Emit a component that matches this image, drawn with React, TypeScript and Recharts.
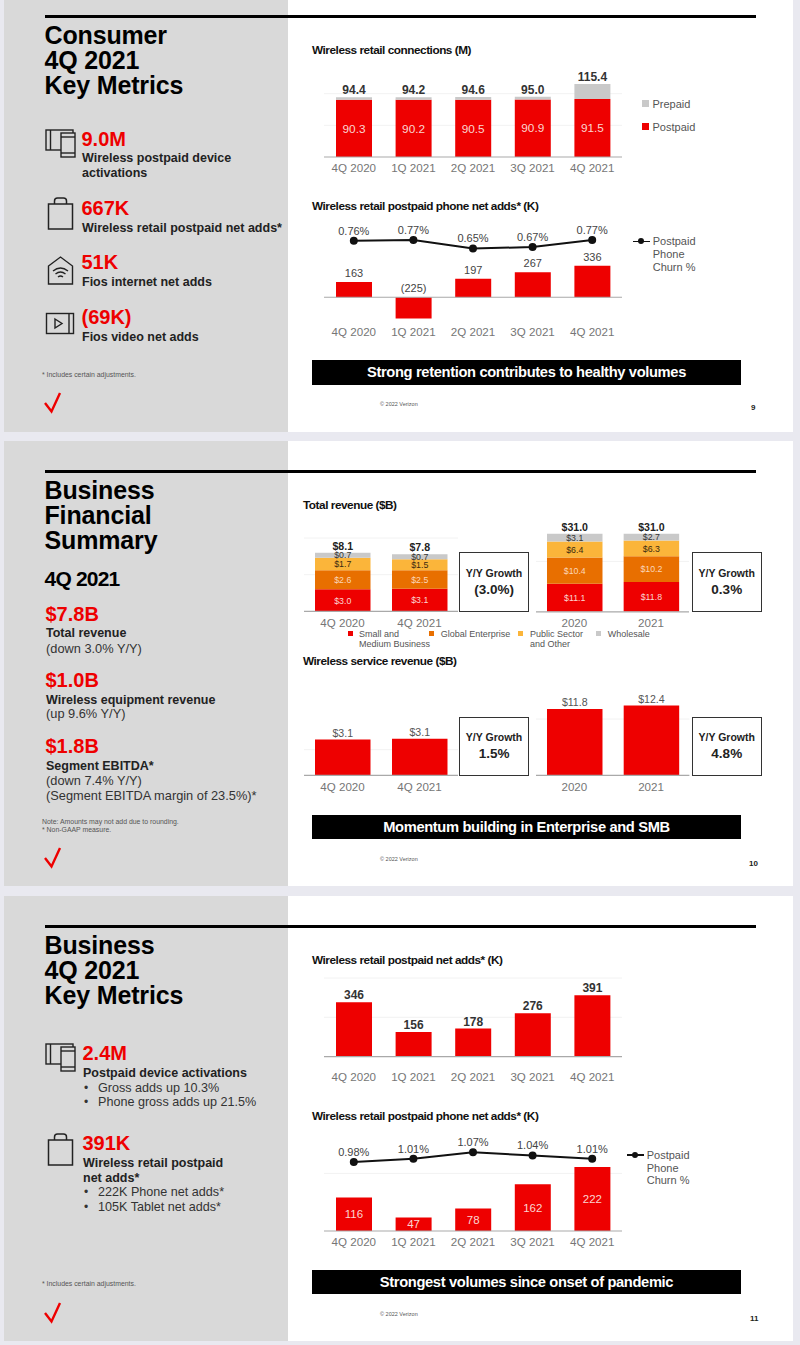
import {
  BarChart,
  Bar,
  ComposedChart,
  Line,
  XAxis,
  YAxis,
  CartesianGrid,
  LabelList,
  ReferenceLine,
} from "recharts";

const RED = "#ee0000";
const ORANGE = "#e86f00";
const YELLOW = "#fbb53a";
const GREY = "#c9c9c9";
const FONT = '"Liberation Sans", Arial, sans-serif';

const quarters = ["4Q 2020", "1Q 2021", "2Q 2021", "3Q 2021", "4Q 2021"];

const postpaidM = [90.3, 90.2, 90.5, 90.9, 91.5];
const prepaidM = [4.1, 4.0, 4.1, 4.1, 23.9];
const totalM = [94.4, 94.2, 94.6, 95.0, 115.4];

const consumerNetAdds = [163, -225, 197, 267, 336];
const consumerChurn = [0.76, 0.77, 0.65, 0.67, 0.77];

const quarterPair = ["4Q 2020", "4Q 2021"];
const yearPair = ["2020", "2021"];

const smbQ = [3.0, 3.1];
const globalQ = [2.6, 2.5];
const publicQ = [1.7, 1.5];
const wholesaleQ = [0.7, 0.7];
const totalQ = [8.1, 7.8];

const smbY = [11.1, 11.8];
const globalY = [10.4, 10.2];
const publicY = [6.4, 6.3];
const wholesaleY = [3.1, 2.7];
const totalY = [31.0, 31.0];

const serviceQ = [3.07, 3.14];
const serviceY = [11.8, 12.4];

const businessNetAdds = [346, 156, 178, 276, 391];
const businessPhoneAdds = [116, 47, 78, 162, 222];
const businessChurn = [0.98, 1.01, 1.07, 1.04, 1.01];

const connections = quarters.map((q, i) => ({
  q,
  postpaid: postpaidM[i],
  prepaid: prepaidM[i],
  total: totalM[i],
}));
const consumerPhones = quarters.map((q, i) => ({
  q,
  adds: consumerNetAdds[i],
  churn: consumerChurn[i],
}));
const revenueQ = quarterPair.map((q, i) => ({
  q,
  smb: smbQ[i],
  global: globalQ[i],
  public: publicQ[i],
  wholesale: wholesaleQ[i],
  total: totalQ[i],
}));
const revenueY = yearPair.map((q, i) => ({
  q,
  smb: smbY[i],
  global: globalY[i],
  public: publicY[i],
  wholesale: wholesaleY[i],
  total: totalY[i],
}));
const wirelessQ = quarterPair.map((q, i) => ({ q, value: serviceQ[i] }));
const wirelessY = yearPair.map((q, i) => ({ q, value: serviceY[i] }));
const businessAdds = quarters.map((q, i) => ({ q, adds: businessNetAdds[i] }));
const businessPhones = quarters.map((q, i) => ({
  q,
  adds: businessPhoneAdds[i],
  churn: businessChurn[i],
}));

const dollars = (v: any) => `$${Number(v).toFixed(1)}`;
const oneDecimal = (v: any) => Number(v).toFixed(1);
const percent = (v: any) => `${Number(v).toFixed(2)}%`;

// text placed by the vertical centre of its line
const T = ({ x, y, size = 12, bold = false, color = "#111", ls = 0, children }: any) => (
  <div
    style={{
      position: "absolute",
      left: x,
      top: y,
      transform: "translateY(-50%)",
      fontSize: size,
      fontWeight: bold ? 700 : 400,
      color,
      letterSpacing: ls,
      whiteSpace: "nowrap",
      lineHeight: 1,
    }}
  >
    {children}
  </div>
);

const Box = ({ x, y, w, h, color, border }: any) => (
  <div
    style={{
      position: "absolute",
      left: x,
      top: y,
      width: w,
      height: h,
      background: color,
      border,
      boxSizing: "border-box",
    }}
  />
);

const Heading = ({ x, y, children }: any) => (
  <T x={x} y={y} size={11.8} bold ls={-0.47}>
    {children}
  </T>
);

const BigTitle = ({ y, children }: any) => (
  <T x={44.5} y={y} size={25} bold color="#000" ls={-0.15}>
    {children}
  </T>
);

const Bold = ({ x, y, children }: any) => (
  <T x={x} y={y} size={12.5} bold color="#222">
    {children}
  </T>
);

const Figure = ({ x, y, children }: any) => (
  <T x={x} y={y} size={20} bold color={RED}>
    {children}
  </T>
);

const Plain = ({ x, y, children }: any) => (
  <T x={x} y={y} size={12.8} color="#333">
    {children}
  </T>
);

const Note = ({ y, children }: any) => (
  <T x={42} y={y} size={6.9} color="#555">
    {children}
  </T>
);

const Key = ({ x, y, children }: any) => (
  <T x={x} y={y} size={11} color="#555">
    {children}
  </T>
);

const Growth = ({ x, y, h, labelY, valueY, value }: any) => (
  <>
    <Box x={x} y={y} w={69.5} h={h} color="#fff" border="1.3px solid #333" />
    <div
      style={{
        position: "absolute",
        left: x,
        width: 69.5,
        top: labelY,
        transform: "translateY(-50%)",
        textAlign: "center",
        fontSize: 10.5,
        fontWeight: 700,
        color: "#222",
        lineHeight: 1,
      }}
    >
      Y/Y Growth
    </div>
    <div
      style={{
        position: "absolute",
        left: x,
        width: 69.5,
        top: valueY,
        transform: "translateY(-50%)",
        textAlign: "center",
        fontSize: 13.5,
        fontWeight: 700,
        color: "#222",
        lineHeight: 1,
      }}
    >
      {value}
    </div>
  </>
);

const Banner = ({ y, h, children }: any) => (
  <div
    style={{
      position: "absolute",
      left: 312,
      top: y,
      width: 429,
      height: h,
      lineHeight: `${h}px`,
      background: "#000",
      color: "#fff",
      textAlign: "center",
      fontSize: 14.7,
      fontWeight: 700,
      letterSpacing: -0.35,
    }}
  >
    {children}
  </div>
);

const Check = ({ y }: any) => (
  <svg style={{ position: "absolute", left: 42, top: y, overflow: "visible" }} width={22} height={24}>
    <polyline points="3,11 9.5,19.5 18,1" fill="none" stroke={RED} strokeWidth={2.4} />
  </svg>
);

const DevicesIcon = ({ y }: any) => (
  <svg style={{ position: "absolute", left: 45, top: y }} width={32} height={30} fill="none" stroke="#222" strokeWidth={1.4}>
    <rect x={1} y={1} width={27} height={20} />
    <line x1={5.5} y1={1} x2={5.5} y2={21} />
    <rect x={16} y={4} width={14} height={24} fill="#d9d9d9" />
    <line x1={16} y1={8} x2={30} y2={8} />
    <line x1={16} y1={24} x2={30} y2={24} />
  </svg>
);

const BagIcon = ({ y }: any) => (
  <svg style={{ position: "absolute", left: 47, top: y }} width={27} height={34} fill="none" stroke="#222" strokeWidth={1.5}>
    <rect x={1.5} y={7} width={24} height={25} />
    <path d="M7.5 7 V4 Q7.5 1 10.5 1 H16.5 Q19.5 1 19.5 4 V7" />
  </svg>
);

const HouseIcon = ({ y }: any) => (
  <svg style={{ position: "absolute", left: 47, top: y }} width={27} height={30} fill="none" stroke="#222" strokeWidth={1.4}>
    <path d="M1.5 10 L13.5 1 L25.5 10 V28 H1.5 Z" />
    <path d="M6 15 Q13.5 9 21 15 M8.5 18 Q13.5 14 18.5 18 M11 21 Q13.5 19 16 21" />
  </svg>
);

const VideoIcon = ({ y }: any) => (
  <svg style={{ position: "absolute", left: 45, top: y }} width={31} height={24} fill="none" stroke="#222" strokeWidth={1.4}>
    <rect x={1.5} y={1.5} width={27} height={20} />
    <line x1={24} y1={1.5} x2={24} y2={21.5} />
    <path d="M10 7 L17 11.5 L10 16 Z" />
  </svg>
);

// frame a chart so its plot rectangle lands on the given page coordinates
const HEAD = 26;
const FOOT = 30;
const margin = { top: HEAD, bottom: 0, left: 0, right: 0 };

const Chart = ({ x0, x1, top, bottom, composed = false, data, children }: any) => {
  const Wrap: any = composed ? ComposedChart : BarChart;
  return (
    <div style={{ position: "absolute", left: x0, top: top - HEAD }}>
      <Wrap
        width={x1 - x0}
        height={bottom - top + HEAD + FOOT}
        data={data}
        margin={margin}
        style={{ overflow: "visible" }}
      >
        {children}
      </Wrap>
    </div>
  );
};

const xAxis = (tickMargin: number, axisLine: boolean) => (
  <XAxis
    dataKey="q"
    height={FOOT}
    interval={0}
    tickLine={false}
    tickMargin={tickMargin}
    axisLine={axisLine ? { stroke: "#a9a9a9", strokeWidth: 1.2 } : false}
    tick={{ fontSize: 11.6, fill: "#767676" }}
  />
);

const negativeAwareLabel = (props: any) => {
  const { x, y, width, height, value } = props;
  const edge = Math.min(y, y + height);
  return (
    <text x={x + width / 2} y={edge - 5} textAnchor="middle" fontSize={11} fill="#444">
      {value < 0 ? `(${Math.abs(value)})` : value}
    </text>
  );
};

const StackedRevenue = ({ data, x0, x1, top, domain, grid }: any) => (
  <Chart x0={x0} x1={x1} top={top} bottom={611.7} data={data}>
    <CartesianGrid vertical={false} horizontalValues={grid} stroke="#f2f2f2" />
    {xAxis(1, true)}
    <YAxis hide domain={domain} allowDataOverflow />
    <Bar dataKey="smb" stackId="s" fill={RED} barSize={55.5} isAnimationActive={false}>
      <LabelList dataKey="smb" position="center" fontSize={8.8} fill="#fbd5d0" formatter={dollars} />
    </Bar>
    <Bar dataKey="global" stackId="s" fill={ORANGE} barSize={55.5} isAnimationActive={false}>
      <LabelList dataKey="global" position="center" fontSize={8.8} fill="#fbd6b8" formatter={dollars} />
    </Bar>
    <Bar dataKey="public" stackId="s" fill={YELLOW} barSize={55.5} isAnimationActive={false}>
      <LabelList dataKey="public" position="center" fontSize={8.8} fill="#3a2a10" formatter={dollars} />
    </Bar>
    <Bar dataKey="wholesale" stackId="s" fill={GREY} barSize={55.5} isAnimationActive={false}>
      <LabelList dataKey="wholesale" position="center" fontSize={8.8} fill="#333" formatter={dollars} />
      <LabelList dataKey="total" position="top" offset={3} fontSize={10.6} fontWeight={700} fill="#222" formatter={dollars} />
    </Bar>
  </Chart>
);

const ServiceRevenue = ({ data, x0, x1, top, domain, grid }: any) => (
  <Chart x0={x0} x1={x1} top={top} bottom={775.3} data={data}>
    <CartesianGrid vertical={false} horizontalValues={grid} stroke="#f2f2f2" />
    {xAxis(1, true)}
    <YAxis hide domain={domain} allowDataOverflow />
    <Bar dataKey="value" fill={RED} barSize={55.5} isAnimationActive={false}>
      <LabelList dataKey="value" position="top" offset={3} fontSize={10.6} fill="#555" formatter={dollars} />
    </Bar>
  </Chart>
);

const Square = ({ x, y, size = 5, color }: any) => (
  <Box x={x} y={y - size / 2} w={size} h={size} color={color} />
);

const ChurnKey = ({ x, y }: any) => (
  <>
    <Box x={x} y={y - 0.7} w={17} h={1.4} color="#111" />
    <div
      style={{
        position: "absolute",
        left: x + 5.5,
        top: y - 3,
        width: 6,
        height: 6,
        borderRadius: 3,
        background: "#111",
      }}
    />
    <Key x={x + 20} y={y}>Postpaid</Key>
    <Key x={x + 20} y={y + 12.7}>Phone</Key>
    <Key x={x + 20} y={y + 25.4}>Churn %</Key>
  </>
);

const Bullet = ({ y, children }: any) => (
  <>
    <T x={84} y={y} size={12} color="#333">•</T>
    <T x={98} y={y} size={12.6} color="#333">{children}</T>
  </>
);

const ChurnLine = () => (
  <Line
    yAxisId="churn"
    dataKey="churn"
    stroke="#111"
    strokeWidth={2}
    dot={{ r: 3, fill: "#111", stroke: "#111" }}
    isAnimationActive={false}
  >
    <LabelList dataKey="churn" position="top" offset={6} fontSize={11} fill="#444" formatter={percent} />
  </Line>
);

export default function App() {
  return (
    <div
      style={{
        position: "absolute",
        left: 0,
        top: 0,
        width: 800,
        height: 1345,
        overflow: "hidden",
        background: "#e9e9f0",
        fontFamily: FONT,
      }}
    >
      {/* slide backgrounds */}
      <Box x={4} y={0} w={789} h={432} color="#fff" />
      <Box x={4} y={441} w={789} h={445} color="#fff" />
      <Box x={4} y={896} w={789} h={445} color="#fff" />
      <Box x={4} y={0} w={284} h={432} color="#d9d9d9" />
      <Box x={4} y={441} w={284} h={445} color="#d9d9d9" />
      <Box x={4} y={896} w={284} h={445} color="#d9d9d9" />
      <Box x={45} y={14.5} w={711} h={3} color="#000" />
      <Box x={45} y={469.5} w={711} h={3} color="#000" />
      <Box x={45} y={924.5} w={711} h={3} color="#000" />

      {/* consumer left panel */}
      <BigTitle y={35}>Consumer</BigTitle>
      <BigTitle y={60}>4Q 2021</BigTitle>
      <BigTitle y={85}>Key Metrics</BigTitle>
      <DevicesIcon y={129} />
      <Figure x={81.5} y={138.5}>9.0M</Figure>
      <Bold x={82} y={158}>Wireless postpaid device</Bold>
      <Bold x={82} y={172.5}>activations</Bold>
      <BagIcon y={197} />
      <Figure x={81.5} y={207.5}>667K</Figure>
      <Bold x={82} y={228}>Wireless retail postpaid net adds*</Bold>
      <HouseIcon y={256} />
      <Figure x={81.5} y={262}>51K</Figure>
      <Bold x={82} y={282}>Fios internet net adds</Bold>
      <VideoIcon y={312} />
      <Figure x={81.5} y={316.5}>(69K)</Figure>
      <Bold x={82} y={336.5}>Fios video net adds</Bold>
      <Note y={375}>* Includes certain adjustments.</Note>
      <Check y={392} />

      {/* consumer charts */}
      <Heading x={312} y={51}>Wireless retail connections (M)</Heading>
      <Chart x0={324} x1={622} top={80.7} bottom={156.7} data={connections}>
        <CartesianGrid vertical={false} horizontalValues={[50, 100]} stroke="#f2f2f2" />
        {xAxis(1, true)}
        <YAxis hide domain={[0, 120]} allowDataOverflow />
        <Bar dataKey="postpaid" stackId="c" fill={RED} barSize={36} isAnimationActive={false}>
          <LabelList dataKey="postpaid" position="center" fontSize={11.8} fill="#fbd5d0" formatter={oneDecimal} />
        </Bar>
        <Bar dataKey="prepaid" stackId="c" fill={GREY} barSize={36} isAnimationActive={false}>
          <LabelList dataKey="total" position="top" offset={3} fontSize={12} fontWeight={700} fill="#333" formatter={oneDecimal} />
        </Bar>
      </Chart>
      <Square x={641.7} y={103.5} size={7} color={GREY} />
      <Key x={652.5} y={104}>Prepaid</Key>
      <Square x={641.7} y={126.5} size={7} color={RED} />
      <Key x={652.5} y={127.3}>Postpaid</Key>

      <Heading x={312} y={206.7}>Wireless retail postpaid phone net adds* (K)</Heading>
      <Chart x0={324} x1={622} top={205} bottom={321.7} composed data={consumerPhones}>
        {xAxis(0, false)}
        <YAxis yAxisId="bars" hide domain={[-260, 982]} allowDataOverflow />
        <YAxis yAxisId="churn" hide orientation="right" domain={[-0.384, 1.264]} allowDataOverflow />
        <Bar yAxisId="bars" dataKey="adds" fill={RED} barSize={36} isAnimationActive={false}>
          <LabelList dataKey="adds" content={negativeAwareLabel} />
        </Bar>
        <ReferenceLine yAxisId="bars" y={0} stroke="#a9a9a9" strokeWidth={1.2} />
        {ChurnLine()}
      </Chart>
      <ChurnKey x={632.7} y={241.3} />

      <Banner y={360} h={25}>Strong retention contributes to healthy volumes</Banner>
      <T x={380} y={405} size={5.5} color="#555">© 2022 Verizon</T>
      <T x={751} y={408} size={8} bold color="#222">9</T>

      {/* business financial left panel */}
      <BigTitle y={490}>Business</BigTitle>
      <BigTitle y={515}>Financial</BigTitle>
      <BigTitle y={540}>Summary</BigTitle>
      <T x={44.5} y={578} size={21} bold color="#000" ls={-0.8}>4Q 2021</T>
      <Figure x={45.5} y={614}>$7.8B</Figure>
      <Bold x={46} y={633}>Total revenue</Bold>
      <Plain x={46} y={648.5}>(down 3.0% Y/Y)</Plain>
      <Figure x={45.5} y={679.5}>$1.0B</Figure>
      <Bold x={46} y={699.5}>Wireless equipment revenue</Bold>
      <Plain x={46} y={714}>(up 9.6% Y/Y)</Plain>
      <Figure x={45.5} y={746}>$1.8B</Figure>
      <Bold x={46} y={766}>Segment EBITDA*</Bold>
      <Plain x={46} y={780.5}>(down 7.4% Y/Y)</Plain>
      <Plain x={46} y={795.5}>(Segment EBITDA margin of 23.5%)*</Plain>
      <Note y={821.5}>Note: Amounts may not add due to rounding.</Note>
      <Note y={829.5}>* Non-GAAP measure.</Note>
      <Check y={847} />

      {/* total revenue */}
      <Heading x={303} y={506}>Total revenue ($B)</Heading>
      <StackedRevenue data={revenueQ} x0={304} x1={458} top={538.3} domain={[0, 10]} grid={[5, 10]} />
      <StackedRevenue data={revenueY} x0={535.7} x1={689} top={510.9} domain={[0, 40]} grid={[20]} />
      <Growth x={459.3} y={552.3} h={60} labelY={572.7} valueY={589.5} value="(3.0%)" />
      <Growth x={692} y={552.3} h={60} labelY={572.7} valueY={589.5} value="0.3%" />
      <Square x={347.7} y={633.3} color={RED} />
      <T x={359} y={634} size={9} color="#555">Small and</T>
      <T x={359} y={644} size={9} color="#555">Medium Business</T>
      <Square x={429.3} y={633.3} color={ORANGE} />
      <T x={440.7} y={634} size={9} color="#555">Global Enterprise</T>
      <Square x={518} y={633.3} color={YELLOW} />
      <T x={530} y={634} size={9} color="#555">Public Sector</T>
      <T x={530} y={644} size={9} color="#555">and Other</T>
      <Square x={595.7} y={633.3} color={GREY} />
      <T x={607.7} y={634} size={9} color="#555">Wholesale</T>

      {/* wireless service revenue */}
      <Heading x={303} y={661.7}>Wireless service revenue ($B)</Heading>
      <ServiceRevenue data={wirelessQ} x0={304} x1={458} top={717} domain={[0, 5]} grid={[2.2]} />
      <ServiceRevenue data={wirelessY} x0={536.3} x1={689.7} top={691} domain={[0, 15]} grid={[10]} />
      <Growth x={459.3} y={716.7} h={59.5} labelY={737} valueY={754.3} value="1.5%" />
      <Growth x={692} y={716.7} h={59.5} labelY={737} valueY={754.3} value="4.8%" />

      <Banner y={815} h={24}>Momentum building in Enterprise and SMB</Banner>
      <T x={380} y={860} size={5.5} color="#555">© 2022 Verizon</T>
      <T x={749} y={864} size={8} bold color="#222">10</T>

      {/* business key metrics left panel */}
      <BigTitle y={945}>Business</BigTitle>
      <BigTitle y={970}>4Q 2021</BigTitle>
      <BigTitle y={995}>Key Metrics</BigTitle>
      <DevicesIcon y={1043} />
      <Figure x={82.5} y={1053}>2.4M</Figure>
      <Bold x={83} y={1072.7}>Postpaid device activations</Bold>
      <Bullet y={1087.7}>Gross adds up 10.3%</Bullet>
      <Bullet y={1102.3}>Phone gross adds up 21.5%</Bullet>
      <BagIcon y={1133} />
      <Figure x={82.5} y={1143}>391K</Figure>
      <Bold x={83} y={1163}>Wireless retail postpaid</Bold>
      <Bold x={83} y={1177.7}>net adds*</Bold>
      <Bullet y={1192}>222K Phone net adds*</Bullet>
      <Bullet y={1207}>105K Tablet net adds*</Bullet>
      <Note y={1284}>* Includes certain adjustments.</Note>
      <Check y={1302} />

      {/* business charts */}
      <Heading x={312} y={960.7}>Wireless retail postpaid net adds* (K)</Heading>
      <Chart x0={324} x1={622} top={977.7} bottom={1056.3} data={businessAdds}>
        <CartesianGrid vertical={false} horizontalValues={[250, 500]} stroke="#f2f2f2" />
        {xAxis(10, true)}
        <YAxis hide domain={[0, 500]} allowDataOverflow />
        <Bar dataKey="adds" fill={RED} barSize={36} isAnimationActive={false}>
          <LabelList dataKey="adds" position="top" offset={3} fontSize={12} fontWeight={700} fill="#333" />
        </Bar>
      </Chart>

      <Heading x={312} y={1116.7}>Wireless retail postpaid phone net adds* (K)</Heading>
      <Chart x0={324} x1={622} top={1140} bottom={1231} composed data={businessPhones}>
        <CartesianGrid yAxisId="bars" vertical={false} horizontalValues={[200]} stroke="#f2f2f2" />
        {xAxis(1, true)}
        <YAxis yAxisId="bars" hide domain={[0, 316]} allowDataOverflow />
        <YAxis yAxisId="churn" hide orientation="right" domain={[0.339, 1.1835]} allowDataOverflow />
        <Bar yAxisId="bars" dataKey="adds" fill={RED} barSize={36} isAnimationActive={false}>
          <LabelList dataKey="adds" position="center" fontSize={11.5} fill="#fbd5d0" />
        </Bar>
        {ChurnLine()}
      </Chart>
      <ChurnKey x={626.7} y={1155} />

      <Banner y={1270} h={24}>Strongest volumes since onset of pandemic</Banner>
      <T x={380} y={1315} size={5.5} color="#555">© 2022 Verizon</T>
      <T x={750} y={1319} size={8} bold color="#222">11</T>
    </div>
  );
}
